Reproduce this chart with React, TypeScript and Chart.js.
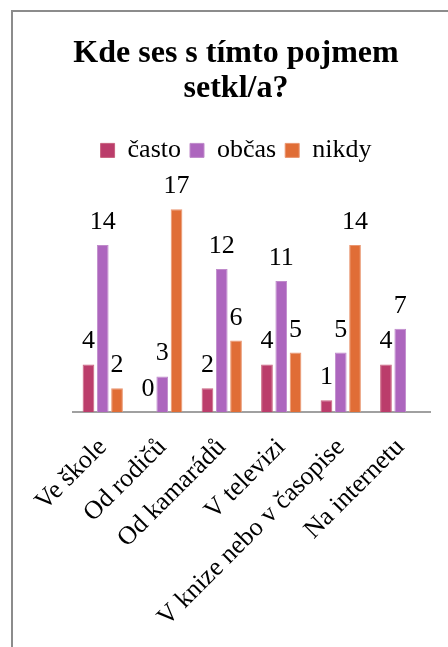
import React, { useEffect, useRef } from "react";
import { Chart, registerables } from "chart.js";

Chart.register(...registerables);

const categories = [
  "Ve škole",
  "Od rodičů",
  "Od kamarádů",
  "V televizi",
  "V knize nebo v časopise",
  "Na internetu",
];
const seriesNames = ["často", "občas", "nikdy"];
const castoValues = [4, 0, 2, 4, 1, 4];
const obcasValues = [14, 3, 12, 11, 5, 7];
const nikdyValues: (number | null)[] = [2, 17, 6, 5, 14, null];
const titleLines = ["Kde ses s tímto pojmem", "setkl/a?"];

const SERIF = '"Liberation Serif", "Times New Roman", Times, serif';

const valueLabels = {
  id: "valueLabels",
  afterDatasetsDraw(chart: any) {
    const ctx = chart.ctx;
    ctx.save();
    ctx.font = `26px ${SERIF}`;
    ctx.fillStyle = "#000";
    ctx.textAlign = "center";
    ctx.textBaseline = "alphabetic";
    chart.data.datasets.forEach((ds: any, i: number) => {
      const meta = chart.getDatasetMeta(i);
      meta.data.forEach((el: any, j: number) => {
        const v = ds.data[j];
        if (v === null || v === undefined) return;
        ctx.fillText(String(v), el.x, el.y - 16);
      });
    });
    ctx.restore();
  },
};

export default function App() {
  const ref = useRef<HTMLCanvasElement | null>(null);

  useEffect(() => {
    if (!ref.current) return;
    const chart = new Chart(ref.current, {
      type: "bar",
      data: {
        labels: categories,
        datasets: [
          {
            label: seriesNames[0],
            data: castoValues,
            backgroundColor: "#BB3D6B",
            borderColor: "#C9627F",
            borderWidth: 1,
          },
          {
            label: seriesNames[1],
            data: obcasValues,
            backgroundColor: "#AD66BE",
            borderColor: "#C08BCB",
            borderWidth: 1,
          },
          {
            label: seriesNames[2],
            data: nikdyValues,
            backgroundColor: "#E06D36",
            borderColor: "#EA9670",
            borderWidth: 1,
          },
        ],
      },
      options: {
        responsive: false,
        animation: false,
        devicePixelRatio: 1,
        layout: { padding: { top: 8, bottom: 9, left: 0, right: 0 } },
        datasets: {
          bar: { barPercentage: 0.82, categoryPercentage: 0.72 },
        },
        plugins: {
          title: {
            display: true,
            text: titleLines,
            color: "#000",
            font: { family: SERIF, size: 32, weight: "bold", lineHeight: 1.1 },
            padding: { top: 16, bottom: 22 },
          },
          legend: {
            display: true,
            position: "top",
            labels: {
              color: "#000",
              font: { family: SERIF, size: 26 },
              boxWidth: 14,
              boxHeight: 14,
              padding: 9,
            },
          },
          tooltip: { enabled: false },
        },
        scales: {
          x: {
            grid: { display: false, drawTicks: false },
            border: { display: true, color: "#A0A0A0", width: 2 },
            ticks: {
              color: "#000",
              font: { family: SERIF, size: 26 },
              maxRotation: 45,
              minRotation: 45,
              autoSkip: false,
              padding: 20,
            },
          },
          y: {
            min: 0,
            max: 20,
            display: true,
            grid: { display: false, drawTicks: false },
            border: { display: false },
            ticks: { display: false },
            afterFit(scale: any) {
              scale.width = 60;
            },
          },
          y2: {
            position: "right",
            display: true,
            grid: { display: false, drawTicks: false },
            border: { display: false },
            ticks: { display: false },
            afterFit(scale: any) {
              scale.width = 29;
            },
          },
        },
      } as any,
      plugins: [valueLabels],
    });
    return () => chart.destroy();
  }, []);

  return (
    <div
      style={{
        position: "fixed",
        left: 0,
        top: 0,
        width: 448,
        height: 647,
        overflow: "hidden",
        background: "#fff",
      }}
    >
      <div
        style={{
          position: "absolute",
          left: 11,
          top: 10,
          width: 446,
          height: 700,
          border: "2px solid #8C8C8C",
          background: "#fff",
        }}
      >
        <canvas
          ref={ref}
          width={446}
          height={650}
          style={{ display: "block", width: 446, height: 650 }}
        />
      </div>
    </div>
  );
}
